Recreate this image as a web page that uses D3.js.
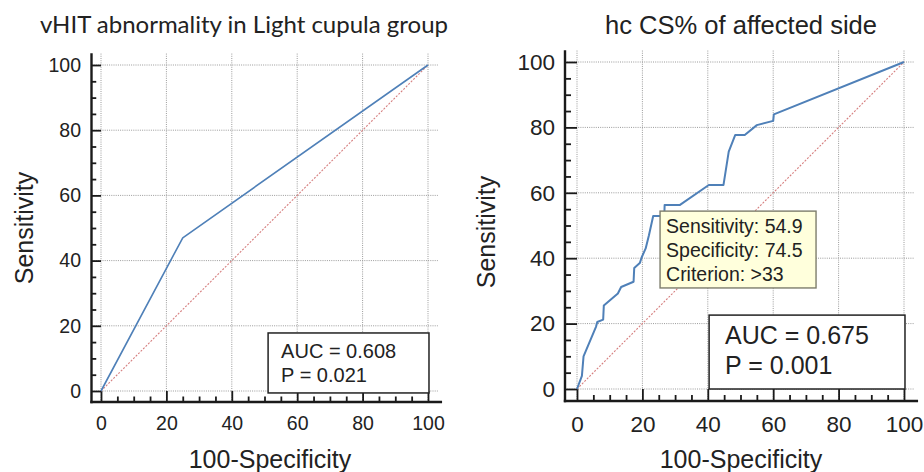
<!DOCTYPE html>
<html>
<head>
<meta charset="utf-8">
<script src="https://cdn.jsdelivr.net/npm/d3@7"></script>
<style>
  body { margin: 0; background: #fff; }
  svg { display: block; }
  text { font-family: "Liberation Sans", Arial, sans-serif; fill: #222; }
</style>
</head>
<body>
<svg id="chart" width="924" height="472"></svg>
<script>
// ROC data (x = 100-Specificity, y = Sensitivity)
const vhitFpr = [0, 25, 100];
const vhitSens = [0, 47, 100];

const csFpr = [0, 1.5, 2, 5.8, 6.2, 8, 8.2, 12.5, 13.5, 17.3, 17.5, 19.2, 19.8, 21, 22, 23.3, 26.7, 26.8, 31.5, 40.3, 44.8, 46.4, 48.4, 51.3, 55, 60, 60.2, 100];
const csSens = [0, 4, 10, 19, 20.5, 21.2, 25.5, 29.2, 31.2, 32.8, 37, 38.5, 40.3, 43, 47, 52.9, 52.9, 56.3, 56.3, 62.4, 62.4, 72.6, 77.7, 77.7, 80.7, 82, 84, 100];

const diagonal = [0, 100];
const majorTicks = [0, 20, 40, 60, 80, 100];
const minorTicks = d3.range(0, 101, 5).filter((v) => v % 20);

const titles = ['vHIT abnormality in Light cupula group', 'hc CS% of affected side'];
const xLabel = '100-Specificity';
const yLabel = 'Sensitivity';
const aucLines = [['AUC = 0.608', 'P = 0.021'], ['AUC = 0.675', 'P = 0.001']];
const tipLines = ['Sensitivity: 54.9', 'Specificity: 74.5', 'Criterion: >33'];
// annotation boxes in data units: [x0, x1, yTop, yBottom]
const aucBoxes = [[51.1, 100.3, 17.8, -0.6], [40.4, 100.3, 22.6, 0]];
const tipBox = [25.4, 73.1, 54.4, 30.9];

const panels = [
  {
    fpr: vhitFpr, sens: vhitSens, xr: [101, 428], yr: [391, 65], axisX: 91.5, axisY: 402,
    tickFs: 19.5, tickPad: 10.5, tickPadB: 14, labelFs: 25, aucFs: 20, lineW: 1.6,
    title: { x: 244, y: 33, fs: 23, font: 'Lato', len: 408 },
    yLab: { x: 33, y: 228 }, xLab: { x: 270, y: 468 },
    auc: { dx: 13, dy: [25, 49] }
  },
  {
    fpr: csFpr, sens: csSens, xr: [577, 904], yr: [389, 62], axisX: 565, axisY: 401,
    tickFs: 22.5, tickPad: 10, tickPadB: 15, labelFs: 25, aucFs: 25, lineW: 2,
    title: { x: 741, y: 34, fs: 25, font: null, len: 272 },
    yLab: { x: 495, y: 232 }, xLab: { x: 741, y: 468 },
    auc: { dx: 16, dy: [29, 59] },
    tip: true
  }
];

const svg = d3.select('#chart');

panels.forEach((p, i) => {
  const x = d3.scaleLinear().domain([0, 100]).range(p.xr);
  const y = d3.scaleLinear().domain([0, 100]).range(p.yr);
  const g = svg.append('g');

  // grid
  g.selectAll('.vgrid').data(majorTicks).enter().append('line')
    .attr('x1', (d) => x(d)).attr('x2', (d) => x(d))
    .attr('y1', y(103.5)).attr('y2', p.axisY)
    .attr('stroke', '#9a9a9a').attr('stroke-width', 1).attr('stroke-dasharray', '1,1.2');
  g.selectAll('.hgrid').data(majorTicks).enter().append('line')
    .attr('x1', p.axisX).attr('x2', x(103))
    .attr('y1', (d) => y(d)).attr('y2', (d) => y(d))
    .attr('stroke', '#9a9a9a').attr('stroke-width', 1).attr('stroke-dasharray', '1,1.2');

  // axis lines
  g.append('line').attr('x1', p.axisX).attr('x2', p.axisX)
    .attr('y1', y(103.6)).attr('y2', p.axisY + 1.2)
    .attr('stroke', '#1a1a1a').attr('stroke-width', 2.4);
  g.append('line').attr('x1', p.axisX - 1.2).attr('x2', x(104.3))
    .attr('y1', p.axisY).attr('y2', p.axisY)
    .attr('stroke', '#1a1a1a').attr('stroke-width', 2.4);

  // ticks
  const inner = x(0) - p.axisX;
  const yAxis = g.append('g').attr('transform', `translate(${p.axisX},0)`)
    .call(d3.axisLeft(y).tickValues(majorTicks).tickSizeInner(-inner).tickSizeOuter(0).tickPadding(p.tickPad));
  const yMinor = g.append('g').attr('transform', `translate(${p.axisX},0)`)
    .call(d3.axisLeft(y).tickValues(minorTicks).tickSizeInner(-inner / 2).tickSizeOuter(0).tickFormat(''));
  const innerB = p.axisY - y(0);
  const xAxis = g.append('g').attr('transform', `translate(0,${p.axisY})`)
    .call(d3.axisBottom(x).tickValues(majorTicks).tickSizeInner(-innerB).tickSizeOuter(0).tickPadding(p.tickPadB));
  const xMinor = g.append('g').attr('transform', `translate(0,${p.axisY})`)
    .call(d3.axisBottom(x).tickValues(minorTicks).tickSizeInner(-innerB / 2).tickSizeOuter(0).tickFormat(''));
  [yAxis, yMinor, xAxis, xMinor].forEach((a) => {
    a.select('.domain').remove();
    a.selectAll('line').attr('stroke', '#1a1a1a').attr('stroke-width', 1.8);
    a.selectAll('text').attr('font-size', p.tickFs).attr('font-family', '"Liberation Sans", Arial, sans-serif').attr('fill', '#222');
  });

  // chance diagonal
  g.append('path')
    .attr('d', d3.line().x((d) => x(d)).y((d) => y(d))(diagonal))
    .attr('fill', 'none').attr('stroke', '#d67f7f').attr('stroke-width', 1.1)
    .attr('stroke-dasharray', '2,1.5');

  // ROC curve
  const pts = p.fpr.map((v, k) => [v, p.sens[k]]);
  g.append('path')
    .attr('d', d3.line().x((d) => x(d[0])).y((d) => y(d[1]))(pts))
    .attr('fill', 'none').attr('stroke', '#4f80b8').attr('stroke-width', p.lineW)
    .attr('stroke-linejoin', 'round');

  // AUC box
  const b = aucBoxes[i];
  g.append('rect')
    .attr('x', x(b[0])).attr('y', y(b[2]))
    .attr('width', x(b[1]) - x(b[0])).attr('height', y(b[3]) - y(b[2]))
    .attr('fill', '#fff').attr('stroke', '#222').attr('stroke-width', 1.5);
  g.selectAll('.auc').data(aucLines[i]).enter().append('text')
    .attr('x', x(b[0]) + p.auc.dx).attr('y', (d, k) => y(b[2]) + p.auc.dy[k])
    .attr('font-size', p.aucFs).text((d) => d);

  // tooltip at the chosen criterion
  if (p.tip) {
    g.append('rect')
      .attr('x', x(tipBox[0])).attr('y', y(tipBox[2]))
      .attr('width', x(tipBox[1]) - x(tipBox[0])).attr('height', y(tipBox[3]) - y(tipBox[2]))
      .attr('fill', '#ffffdc').attr('stroke', '#7d7d6c').attr('stroke-width', 1.4);
    g.selectAll('.tip').data(tipLines).enter().append('text')
      .attr('x', x(tipBox[0]) + 6).attr('y', (d, k) => y(tipBox[2]) + 22 + k * 24)
      .attr('font-size', 19.5).attr('fill', '#333').text((d) => d);
  }

  // titles and axis labels
  const t = g.append('text')
    .attr('x', p.title.x).attr('y', p.title.y)
    .attr('text-anchor', 'middle').attr('font-size', p.title.fs)
    .attr('textLength', p.title.len).attr('lengthAdjust', 'spacingAndGlyphs')
    .text(titles[i]);
  if (p.title.font) t.style('font-family', p.title.font);

  g.append('text')
    .attr('transform', `translate(${p.yLab.x},${p.yLab.y}) rotate(-90)`)
    .attr('text-anchor', 'middle').attr('font-size', p.labelFs)
    .text(yLabel);
  g.append('text')
    .attr('x', p.xLab.x).attr('y', p.xLab.y)
    .attr('text-anchor', 'middle').attr('font-size', p.labelFs)
    .text(xLabel);
});
</script>
</body>
</html>
